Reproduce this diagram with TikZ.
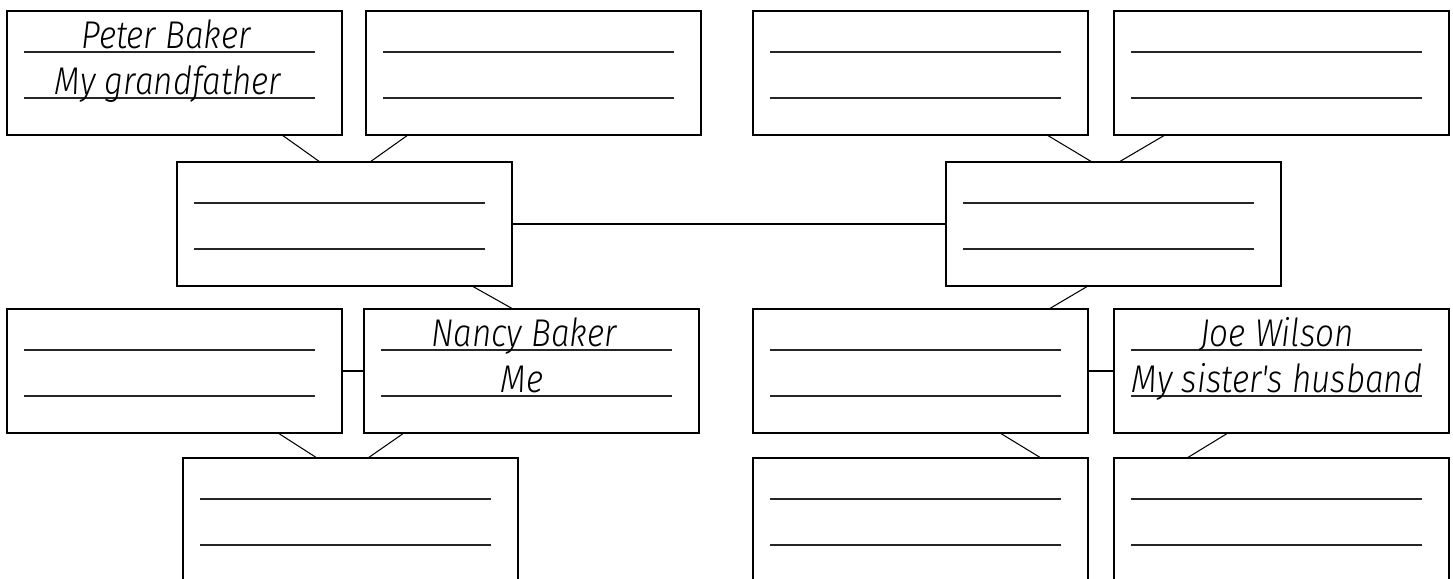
\documentclass[tikz,border=0pt]{standalone}
\usepackage{fontspec}
\IfFontExistsTF{Fira Sans Light Italic}
 {\newfontfamily\hand{Fira Sans Light Italic}[FakeStretch=0.86]}
 {\newfontfamily\hand{Fira Sans Italic}[FakeStretch=0.86]}
\usetikzlibrary{calc}
\tikzset{
 card/.style={draw=black, line width=0.85pt, minimum width=6.7cm, minimum height=2.48cm, inner sep=0pt, outer sep=0pt, anchor=north west},
 blankline/.style={line width=1pt, draw=black!85},
 link/.style={line width=0.6pt, draw=black},
 handtext/.style={anchor=base, inner sep=0pt, font=\hand\fontsize{22}{22}\selectfont},
}
\newcommand\writelines[1]{%
 \draw[blankline] ($(#1.north west)+(17,41)$) -- ++(291,0);
 \draw[blankline] ($(#1.north west)+(17,87)$) -- ++(291,0);}
\begin{document}
\begin{tikzpicture}[x=0.02cm,y=-0.02cm]
\clip (0,0) rectangle (1453,578);
% row 1
\node[card] (ta) at (7,11) {};
\node[card] (tb) at (366,11) {};
\node[card] (tc) at (753,11) {};
\node[card] (td) at (1114,11) {};
% row 2
\node[card] (ml) at (177,162) {};
\node[card] (mr) at (946,162) {};
% row 3
\node[card] (ra) at (7,309) {};
\node[card] (rb) at (364,309) {};
\node[card] (rc) at (753,309) {};
\node[card] (rd) at (1114,309) {};
% row 4
\node[card] (ba) at (183,458) {};
\node[card] (bb) at (753,458) {};
\node[card] (bc) at (1114,458) {};
\foreach \b in {ta,tb,tc,td,ml,mr,ra,rb,rc,rd,ba,bb,bc}{\writelines{\b}}
% texts
\node[handtext] (t1) at ($(ta.north west)+(159,37)$) {Peter Baker};
\node[handtext] (t2) at ($(ta.north west)+(161,83)$) {My grandfather};
\node[handtext] (t3) at ($(rb.north west)+(160,37)$) {Nancy Baker};
\node[handtext] (t4) at ($(rb.north west)+(158,83)$) {Me};
\node[handtext] (t5) at ($(rd.north west)+(163,37)$) {Joe Wilson};
\node[handtext] (t6) at ($(rd.north west)+(163,83)$) {My sister's husband};
% connectors
\draw[link] ($(ta.south west)+(275,0)$) -- ($(ml.north west)+(143,0)$);
\draw[link] ($(tb.south west)+(42,0)$) -- ($(ml.north west)+(193,0)$);
\draw[link] ($(tc.south west)+(294,0)$) -- ($(mr.north west)+(146,0)$);
\draw[link] ($(td.south west)+(51,0)$) -- ($(mr.north west)+(173,0)$);
\draw[link] (ml.east) -- (mr.west);
\draw[link] ($(ml.south west)+(295,0)$) -- ($(rb.north west)+(149,0)$);
\draw[link] ($(mr.south west)+(142,0)$) -- ($(rc.north west)+(296,0)$);
\draw[link] (ra.east) -- (rb.west);
\draw[link] (rc.east) -- (rd.west);
\draw[link] ($(ra.south west)+(271,0)$) -- ($(ba.north west)+(134,0)$);
\draw[link] ($(rb.south west)+(40,0)$) -- ($(ba.north west)+(185,0)$);
\draw[link] ($(rc.south west)+(247,0)$) -- ($(bb.north west)+(288,0)$);
\draw[link] ($(rd.south west)+(114,0)$) -- ($(bc.north west)+(73,0)$);
\end{tikzpicture}
\end{document}
